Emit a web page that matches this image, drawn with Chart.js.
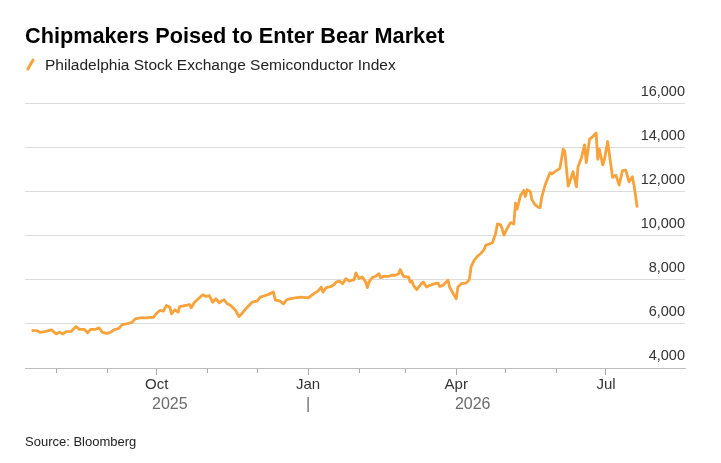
<!DOCTYPE html>
<html>
<head>
<meta charset="utf-8">
<script src="https://cdn.jsdelivr.net/npm/chart.js@4.4.1/dist/chart.umd.min.js"></script>
<style>
  body { margin: 0; background: #fff; font-family: "Liberation Sans", Arial, sans-serif; }
  #wrap { position: relative; width: 721px; height: 463px; }
  #chart { position: absolute; left: 0; top: 0; }
  .title { position: absolute; left: 25px; top: 25px; margin: 0; font-size: 21.7px; line-height: 1; font-weight: bold; color: #000; white-space: nowrap; }
  .legend { position: absolute; left: 45px; top: 57px; font-size: 15.5px; line-height: 1; color: #222; white-space: nowrap; }
  .swatch { position: absolute; left: 29px; top: 58px; width: 2.8px; height: 13px; background: #f7a23a; transform: rotate(30deg); border-radius: 1px; }
  .source { position: absolute; left: 25px; top: 435px; font-size: 13px; line-height: 1; color: #222; }
</style>
</head>
<body>
<div id="wrap">
  <canvas id="chart" width="721" height="463"></canvas>
  <h1 class="title">Chipmakers Poised to Enter Bear Market</h1>
  <span class="swatch"></span>
  <div class="legend">Philadelphia Stock Exchange Semiconductor Index</div>
  <div class="source">Source: Bloomberg</div>
</div>
<script>
"use strict";

// SERIES

const dates = [
  '2025-07-17','2025-07-20','2025-07-22','2025-07-25','2025-07-29','2025-08-01','2025-08-03','2025-08-05',
  '2025-08-07','2025-08-10','2025-08-13','2025-08-15','2025-08-18','2025-08-20','2025-08-22','2025-08-25',
  '2025-08-27','2025-08-29','2025-09-01','2025-09-03','2025-09-05','2025-09-08','2025-09-10','2025-09-14',
  '2025-09-16','2025-09-18','2025-09-21','2025-09-24','2025-09-27','2025-09-29','2025-10-01','2025-10-03',
  '2025-10-05','2025-10-07','2025-10-09','2025-10-10','2025-10-12','2025-10-14','2025-10-15','2025-10-18',
  '2025-10-21','2025-10-22','2025-10-24','2025-10-27','2025-10-29','2025-10-31','2025-11-02','2025-11-04',
  '2025-11-06','2025-11-08','2025-11-10','2025-11-11','2025-11-13','2025-11-15','2025-11-17','2025-11-18',
  '2025-11-20','2025-11-22','2025-11-25','2025-11-28','2025-12-01','2025-12-03','2025-12-06','2025-12-08',
  '2025-12-11','2025-12-12','2025-12-15','2025-12-17','2025-12-19','2025-12-21','2025-12-24','2025-12-28',
  '2026-01-01','2026-01-03','2026-01-05','2026-01-07','2026-01-09','2026-01-10','2026-01-12','2026-01-15',
  '2026-01-17','2026-01-18','2026-01-20','2026-01-22','2026-01-24','2026-01-26','2026-01-29','2026-01-30',
  '2026-02-01','2026-02-03','2026-02-05','2026-02-06','2026-02-07','2026-02-09','2026-02-11','2026-02-13',
  '2026-02-14','2026-02-16','2026-02-19','2026-02-21','2026-02-23','2026-02-25','2026-02-26','2026-02-28',
  '2026-03-02','2026-03-03','2026-03-04','2026-03-05','2026-03-06','2026-03-08','2026-03-10','2026-03-12',
  '2026-03-14','2026-03-16','2026-03-19','2026-03-21','2026-03-22','2026-03-24','2026-03-27','2026-03-28',
  '2026-03-30','2026-04-01','2026-04-02','2026-04-04','2026-04-07','2026-04-09','2026-04-10','2026-04-12',
  '2026-04-14','2026-04-16','2026-04-18','2026-04-19','2026-04-21','2026-04-23','2026-04-25','2026-04-26',
  '2026-04-28','2026-04-29','2026-04-30','2026-05-02','2026-05-04','2026-05-05','2026-05-06','2026-05-07',
  '2026-05-08','2026-05-10','2026-05-12','2026-05-13','2026-05-14','2026-05-16','2026-05-17','2026-05-19',
  '2026-05-21','2026-05-22','2026-05-23','2026-05-25','2026-05-28','2026-05-29','2026-05-31','2026-06-03',
  '2026-06-05','2026-06-06','2026-06-08','2026-06-09','2026-06-11','2026-06-13','2026-06-14','2026-06-16',
  '2026-06-18','2026-06-19','2026-06-21','2026-06-23','2026-06-25','2026-06-26','2026-06-27','2026-06-29',
  '2026-06-30','2026-07-02','2026-07-05','2026-07-07','2026-07-09','2026-07-11','2026-07-13','2026-07-15',
  '2026-07-17','2026-07-18','2026-07-20'
];

const values = [
  5700, 5700, 5620, 5650, 5730, 5545, 5620, 5545,
  5650, 5660, 5880, 5755, 5755, 5600, 5755, 5755,
  5820, 5620, 5570, 5620, 5730, 5800, 5970, 6030,
  6070, 6230, 6275, 6275, 6300, 6300, 6485, 6610,
  6575, 6835, 6760, 6455, 6640, 6530, 6790, 6835,
  6880, 6730, 6985, 7185, 7325, 7245, 7280, 6985,
  7140, 6960, 7065, 7095, 6910, 6835, 6685, 6610,
  6335, 6485, 6760, 6985, 7030, 7215, 7290, 7340,
  7445, 7095, 7030, 6910, 7095, 7140, 7185, 7215,
  7185, 7290, 7400, 7490, 7670, 7445, 7645, 7700,
  7795, 7900, 7945, 7825, 8055, 7945, 8010, 8310,
  8055, 8130, 7900, 7645, 7900, 8100, 8160, 8280,
  8100, 8160, 8160, 8220, 8205, 8280, 8465, 8160,
  8130, 8130, 7900, 7945, 7750, 7550, 7750, 7900,
  7670, 7750, 7825, 7855, 7700, 7750, 7980, 7670,
  7400, 7140, 7670, 7825, 7855, 8010, 8585, 8890,
  9075, 9195, 9380, 9575, 9620, 9680, 10110, 10535,
  10490, 10290, 10030, 10340, 10595, 10565, 10535, 11480,
  11205, 11815, 12055, 11780, 12085, 12010, 11630, 11400,
  11290, 11280, 11760, 12300, 12860, 12800, 12905, 13060,
  13925, 13820, 12250, 12450, 12905, 12220, 13130, 13515,
  14120, 13315, 14385, 14500, 14660, 13470, 13925, 13210,
  13440, 14275, 12650, 12750, 12300, 12950, 12980, 12450,
  12680, 12300, 11280
];

// AXES

const monthTicks = ['2025-08-01','2025-09-01','2025-10-01','2025-11-01','2025-12-01','2026-01-01',
                    '2026-02-01','2026-03-01','2026-04-01','2026-05-01','2026-06-01','2026-07-01'];
const monthLabels = ['', '', 'Oct', '', '', 'Jan', '', '', 'Apr', '', '', 'Jul'];
const yearLabels = ['2025', '|', '2026'];
const yTicks = [4000, 6000, 8000, 10000, 12000, 14000, 16000];
const xRange = ['2025-07-13', '2026-08-18'];

const ORANGE = '#f7a23a';

// days since 1 Jul 2025, so a linear axis can stand in for a time axis
const origin = Date.UTC(2025, 6, 1);
const toDay = s => {
    const [y, m, d] = s.split('-').map(Number);
    return (Date.UTC(y, m - 1, d) - origin) / 864e5;
};

const points = dates.map((d, i) => ({ x: toDay(d), y: values[i] }));
const monthDays = monthTicks.map(toDay);
const janDay = toDay('2026-01-01');
const firstDay = points[0].x;
const lastDay = points[points.length - 1].x;
// year names sit in the middle of the data that falls in each year
const yearDays = [(firstDay + janDay) / 2, janDay, (janDay + lastDay) / 2];

const isMajor = i => monthLabels[i] !== '';

const ctx = document.getElementById('chart').getContext('2d');

const chart = new Chart(ctx, {
    type: 'line',
    data: {
        datasets: [{
            label: 'Philadelphia Stock Exchange Semiconductor Index',
            data: points,
            borderColor: ORANGE,
            borderWidth: 2.8,
            borderJoinStyle: 'round',
            pointRadius: 0,
            tension: 0,
            fill: false
        }]
    },
    options: {
        responsive: false,
        animation: false,
        layout: {
            padding: { left: 25, right: 0, top: 103.5, bottom: 47 }
        },
        plugins: {
            legend: { display: false },
            title: { display: false },
            tooltip: { enabled: false }
        },
        scales: {
            x: {
                type: 'linear',
                position: 'bottom',
                weight: 0,
                min: toDay(xRange[0]),
                max: toDay(xRange[1]),
                afterBuildTicks: scale => {
                    scale.ticks = monthDays.map(v => ({ value: v }));
                },
                afterFit: scale => { scale.height = 24; },
                border: { display: true, color: '#bdbdbd', width: 1 },
                grid: {
                    drawOnChartArea: false,
                    drawTicks: true,
                    tickLength: 7,
                    tickColor: '#a8a8a8',
                    tickWidth: 1,
                    // minor months get a short tick: only the first 4px of the line is drawn
                    tickBorderDash: c => isMajor(c.index) ? [] : [4, 20]
                },
                ticks: {
                    autoSkip: false,
                    maxRotation: 0,
                    padding: 1,
                    color: '#333',
                    font: { family: 'Liberation Sans', size: 15 },
                    callback: (v, i) => monthLabels[i]
                }
            },
            years: {
                type: 'linear',
                position: 'bottom',
                weight: 1,
                min: toDay(xRange[0]),
                max: toDay(xRange[1]),
                afterBuildTicks: scale => {
                    scale.ticks = yearDays.map(v => ({ value: v }));
                },
                afterFit: scale => { scale.height = 24; },
                border: { display: false },
                grid: { display: false, drawTicks: false },
                ticks: {
                    autoSkip: false,
                    maxRotation: 0,
                    padding: 3,
                    color: '#6b6b6b',
                    font: { family: 'Liberation Sans', size: 16 },
                    callback: (v, i) => yearLabels[i]
                }
            },
            y: {
                position: 'right',
                min: 4000,
                max: 16000,
                afterBuildTicks: scale => {
                    scale.ticks = yTicks.map(v => ({ value: v }));
                },
                afterFit: scale => { scale.width = 36; },
                border: { display: false },
                grid: {
                    drawTicks: false,
                    lineWidth: 1,
                    color: c => c.tick && c.tick.value === 4000 ? '#bdbdbd' : '#dcdcdc'
                },
                ticks: {
                    mirror: true,
                    padding: 0,
                    labelOffset: -12,
                    color: '#333',
                    font: { family: 'Liberation Sans', size: 14.5 },
                    callback: v => v.toLocaleString('en-US')
                }
            }
        }
    }
});
</script>
</body>
</html>
